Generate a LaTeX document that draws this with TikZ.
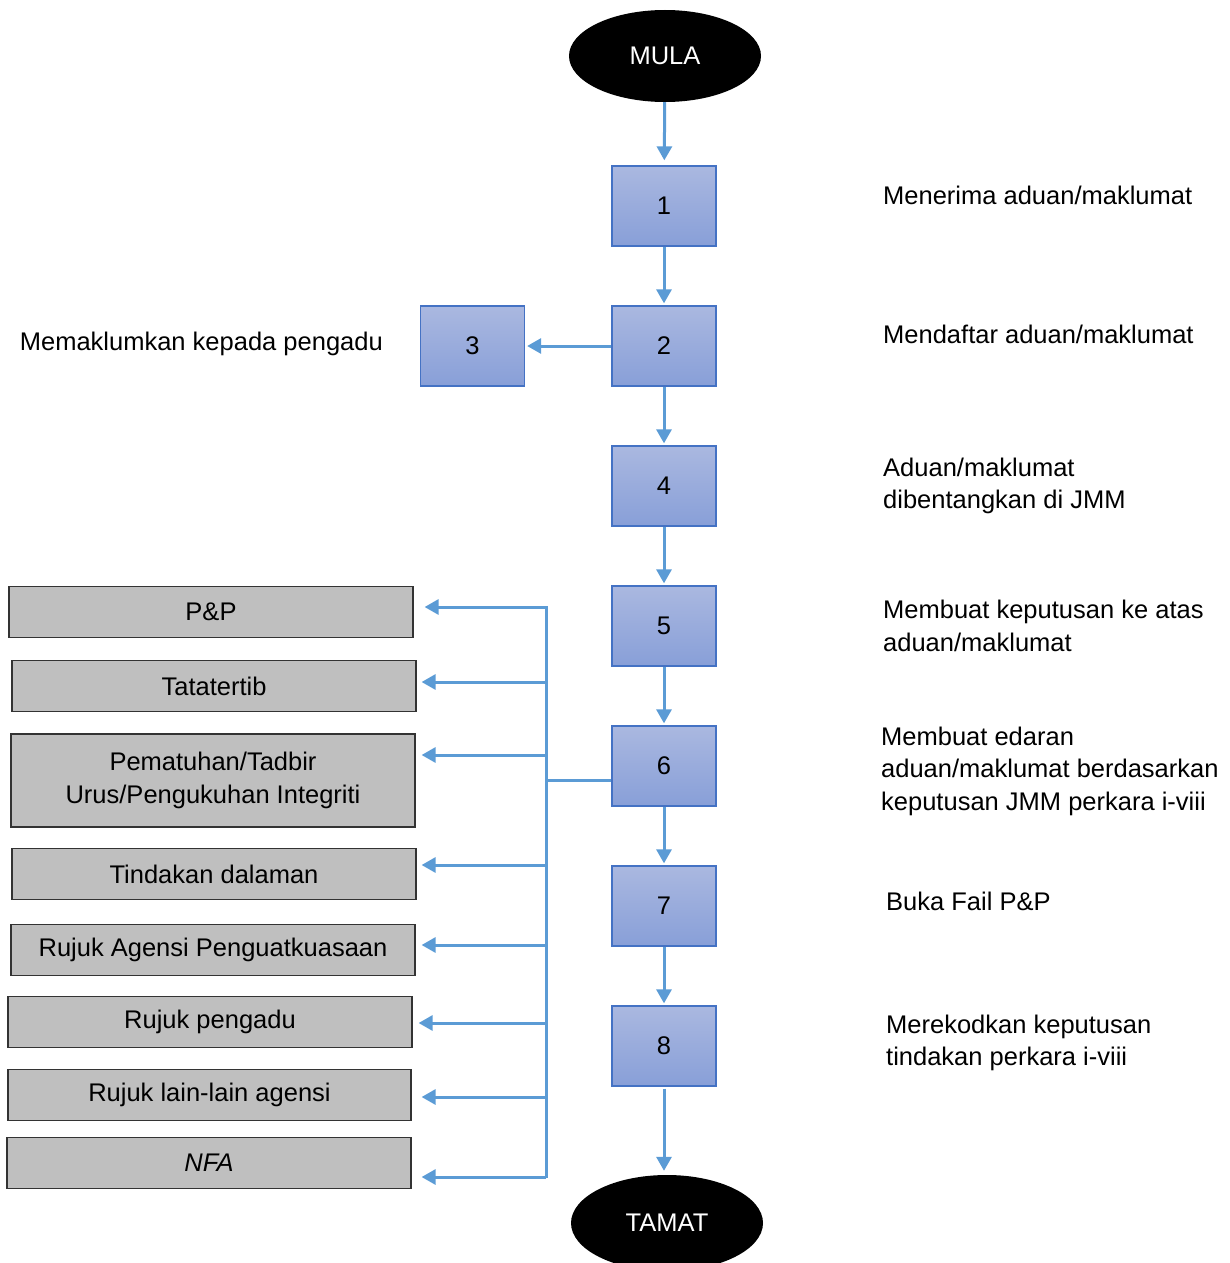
\documentclass[tikz,border=0pt]{standalone}
\usepackage{fontspec}
\setmainfont{Liberation Sans}
\usetikzlibrary{arrows.meta,shapes.geometric}
\definecolor{conn}{HTML}{5B9BD5}
\definecolor{boxtop}{HTML}{AAB8E0}
\definecolor{boxbot}{HTML}{889FD8}
\definecolor{boxline}{HTML}{4472C4}
\definecolor{grayfill}{HTML}{BFBFBF}
\tikzset{
  txt/.style={font=\fontsize{25.5}{32.5}\selectfont},
  numbox/.style={txt, rectangle, draw=boxline, line width=1.3pt, top color=boxtop, bottom color=boxbot, minimum width=104pt, minimum height=80pt, inner sep=0pt},
  terminal/.style={txt, ellipse, fill=black, text=white, minimum width=192pt, minimum height=92pt, inner sep=0pt},
  graybox/.style={txt, rectangle, draw=black!80, line width=1.2pt, fill=grayfill, minimum width=404pt, minimum height=51pt, inner sep=0pt, align=center},
  desc/.style={txt, anchor=west, align=left, inner sep=0pt},
  conline/.style={draw=conn, line width=3pt},
  arr/.style={conline, -{Triangle[width=15pt,length=14pt]}},
}
\begin{document}
\begin{tikzpicture}[x=1pt,y=-1pt]
\useasboundingbox (0,0) rectangle (1229,1263);
% terminals
\node[terminal] (mula) at (665,56) {MULA};
\node[terminal, minimum height=96pt] (tamat) at (667,1223) {TAMAT};
% numbered boxes
\node[numbox] (b1) at (664,206) {1};
\node[numbox] (b2) at (664,346) {2};
\node[numbox] (b3) at (472.5,346) {3};
\node[numbox] (b4) at (664,486) {4};
\node[numbox] (b5) at (664,626) {5};
\node[numbox] (b6) at (664,766) {6};
\node[numbox] (b7) at (664,906) {7};
\node[numbox] (b8) at (664,1046) {8};
% gray boxes
\node[graybox] (g1) at (211,612) {P\&P};
\node[graybox] (g2) at (214,686) {Tatatertib};
\node[graybox, minimum height=93pt] (g3) at (213,780.5) {Pematuhan/Tadbir\\Urus/Pengukuhan Integriti};
\node[graybox] (g4) at (214,874) {Tindakan dalaman};
\node[graybox] (g5) at (213,950) {Rujuk Agensi Penguatkuasaan};
\node[graybox] (g6) at (210,1022) {Rujuk pengadu};
\node[graybox, minimum width=403pt] (g7) at (209.5,1095) {Rujuk lain-lain agensi};
\node[graybox] (g8) at (209,1163) {\itshape NFA};
% descriptions
\node[desc] (d1) at (883,195) {Menerima aduan/maklumat};
\node[desc] (d2) at (883,334) {Mendaftar aduan/maklumat};
\node[desc, anchor=east] (d3) at (383,344) {Memaklumkan kepada pengadu};
\node[desc] (d4) at (883,486) {Aduan/maklumat\\dibentangkan di JMM};
\node[desc] (d5) at (883,626) {Membuat keputusan ke atas\\aduan/maklumat};
\node[desc] (d6) at (881,771) {Membuat edaran\\aduan/maklumat berdasarkan\\keputusan JMM perkara i-viii};
\node[desc] (d7) at (886,901) {Buka Fail P\&P};
\node[desc] (d8) at (886,1043) {Merekodkan keputusan\\tindakan perkara i-viii};
% main flow
\draw[arr, shorten >=5pt] (mula) -- (b1);
\draw[arr, shorten >=2pt] (b1) -- (b2);
\draw[arr, shorten >=2pt] (b2) -- (b3);
\draw[arr, shorten >=2pt] (b2) -- (b4);
\draw[arr, shorten >=2pt] (b4) -- (b5);
\draw[arr, shorten >=2pt] (b5) -- (b6);
\draw[arr, shorten >=2pt] (b6) -- (b7);
\draw[arr, shorten >=2pt] (b7) -- (b8);
\draw[arr, shorten <=2pt, shorten >=4pt] (b8.south) -- (b8.south |- tamat.north);
% bus
\coordinate (bus) at (546,780);
\coordinate (bustop) at (546,606);
\coordinate (busbot) at (546,1178);
\draw[conline] ([yshift=-14pt]b6.west) -- (bus);
\draw[conline] (bustop) -- (busbot);
\coordinate (j1) at (546,607);
\coordinate (j2) at (546,682);
\coordinate (j3) at (546,755);
\coordinate (j4) at (546,865);
\coordinate (j5) at (546,945);
\coordinate (j6) at (546,1023);
\coordinate (j7) at (546,1097);
\coordinate (j8) at (546,1177);
\draw[arr, shorten >=11pt] (j1) -- (j1 -| g1.east);
\draw[arr, shorten >=5pt] (j2) -- (j2 -| g2.east);
\draw[arr, shorten >=6pt] (j3) -- (j3 -| g3.east);
\draw[arr, shorten >=5pt] (j4) -- (j4 -| g4.east);
\draw[arr, shorten >=6pt] (j5) -- (j5 -| g5.east);
\draw[arr, shorten >=6pt] (j6) -- (j6 -| g6.east);
\draw[arr, shorten >=10pt] (j7) -- (j7 -| g7.east);
\draw[arr, shorten >=10pt] (j8) -- (j8 -| g8.east);
\end{tikzpicture}
\end{document}
